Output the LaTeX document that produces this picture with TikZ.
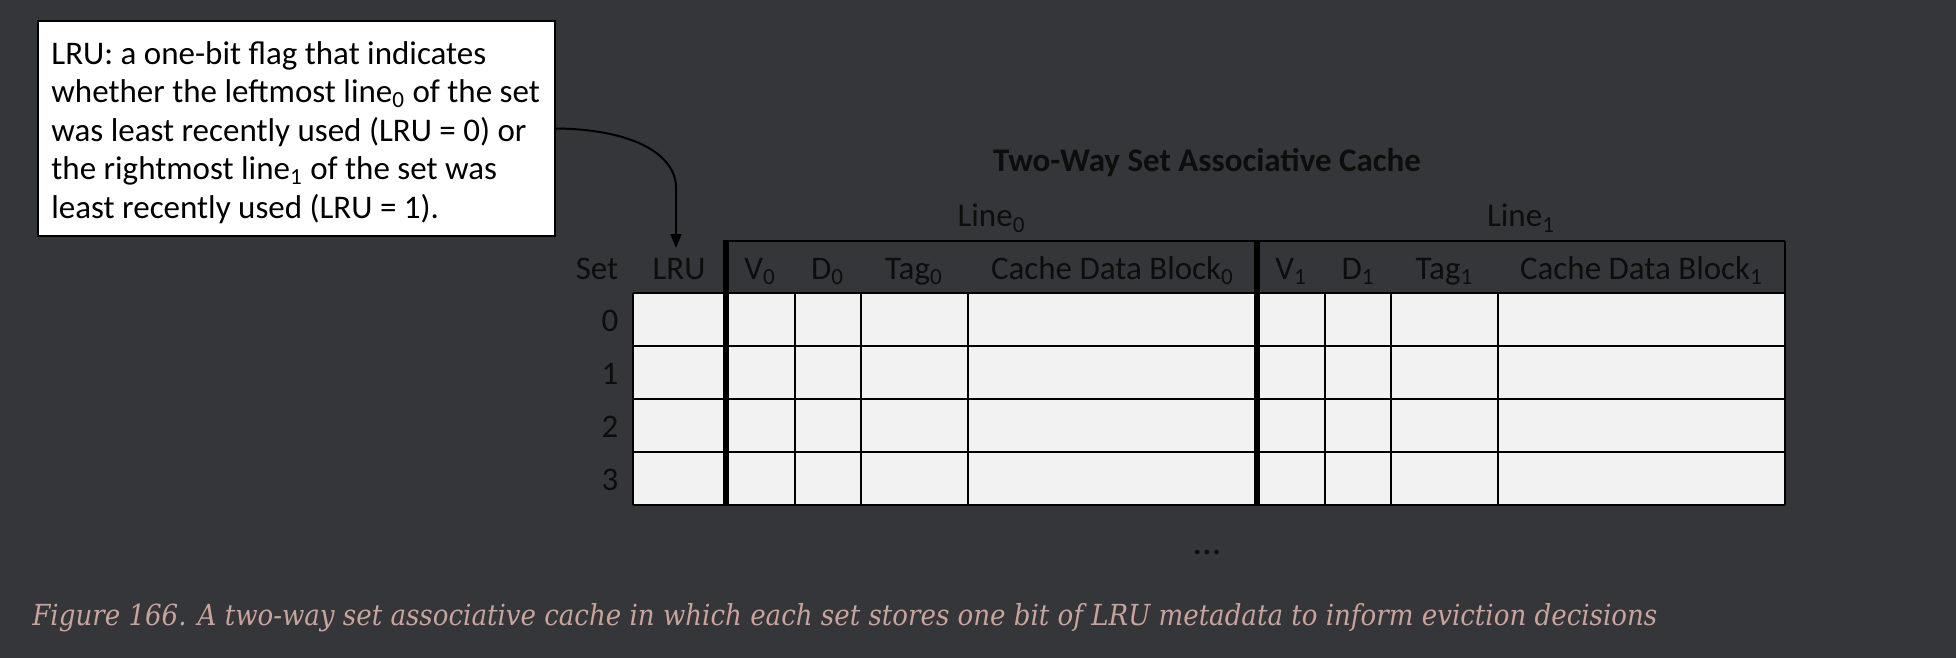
\documentclass[tikz,border=0pt]{standalone}
\usepackage{fontspec}
\setmainfont{Carlito}
\newfontfamily\capfont{DejaVu Serif Condensed}
\usetikzlibrary{arrows.meta}
\definecolor{bg}{HTML}{353639}
\definecolor{cellfill}{HTML}{F2F2F2}
\definecolor{ink}{HTML}{0D0D0D}
\definecolor{captext}{HTML}{C9A39C}
\newcommand{\lsub}[1]{\textsubscript{#1}}
\tikzset{
  grid/.style={draw=black, line width=1pt},
  divider/.style={draw=black, line width=3pt},
  hdr/.style={anchor=base, inner sep=0pt, text=ink, font=\fontsize{16.5pt}{19pt}\selectfont},
  callout/.style={draw=black, line width=0.8pt, fill=white, inner sep=0pt,
    minimum width=258.5pt, minimum height=107.5pt},
  notetext/.style={anchor=north west, inner sep=0pt, align=left,
    font=\fontsize{16.5pt}{19.25pt}\selectfont, text=black},
  pointer/.style={draw=black, line width=1pt, -{Triangle[length=7pt,width=5.5pt]}}
}
\begin{document}
\begin{tikzpicture}[x=0.5pt,y=-0.5pt]
\useasboundingbox[fill=bg] (0,0) rectangle (1956,658);

% explanatory callout
\node[callout] (note) at (296.5,128.5) {};
\node[notetext] (notetext) at (51,41) {LRU: a one-bit flag that indicates\\
whether the leftmost line\lsub{0} of the set\\
was least recently used (LRU = 0) or\\
the rightmost line\lsub{1} of the set was\\
least recently used (LRU = 1).};

% title and line labels
\node[hdr, font=\fontsize{16.5pt}{19pt}\selectfont\bfseries] (title) at (1207,172) {Two-Way Set Associative Cache};
\node[hdr] (line0) at (991.5,227) {Line\lsub{0}};
\node[hdr] (line1) at (1521,227) {Line\lsub{1}};

% cell area
\fill[cellfill] (632.5,293) rectangle (1785,505);
\foreach \y in {293,346,399,452,505} \draw[grid] (632.5,\y) -- (1785,\y);
\foreach \x in {632.5,794.6,860.7,968,1325,1391,1498} \draw[grid] (\x,293) -- (\x,505);
\draw[grid] (726,241) -- (1785,241);
\draw[grid] (1785,241) -- (1785,505);
\draw[divider] (726,240) -- (726,506);
\draw[divider] (1257,240) -- (1257,506);

% column headers
\node[hdr] (hset) at (597,279) {Set};
\node[hdr] (hlru) at (679,279) {LRU};
\node[hdr] (hv0) at (760,279) {V\lsub{0}};
\node[hdr] (hd0) at (827.6,279) {D\lsub{0}};
\node[hdr] (htag0) at (914,279) {Tag\lsub{0}};
\node[hdr] (hcdb0) at (1112.5,279) {Cache Data Block\lsub{0}};
\node[hdr] (hv1) at (1291,279) {V\lsub{1}};
\node[hdr] (hd1) at (1358,279) {D\lsub{1}};
\node[hdr] (htag1) at (1444.5,279) {Tag\lsub{1}};
\node[hdr] (hcdb1) at (1641.5,279) {Cache Data Block\lsub{1}};

% set indices
\node[hdr] (s0) at (610,331) {0};
\node[hdr] (s1) at (610,384) {1};
\node[hdr] (s2) at (610,437) {2};
\node[hdr] (s3) at (610,490) {3};

% more sets follow
\node[hdr, font=\fontsize{19pt}{21pt}\selectfont] (more) at (1207,554) {...};

% pointer from the note to the LRU column
\coordinate (bend) at (676,188);
\coordinate (tip) at (676,248);
\draw[pointer] (note.east) .. controls (628,129) and (676,152) .. (bend) -- (tip);

% caption
\node[anchor=base west, inner sep=0pt, text=captext, font=\capfont\itshape\fontsize{14.5pt}{17pt}\selectfont] (caption) at (32,625)
  {Figure 166. A two-way set associative cache in which each set stores one bit of LRU metadata to inform eviction decisions};
\end{tikzpicture}
\end{document}
